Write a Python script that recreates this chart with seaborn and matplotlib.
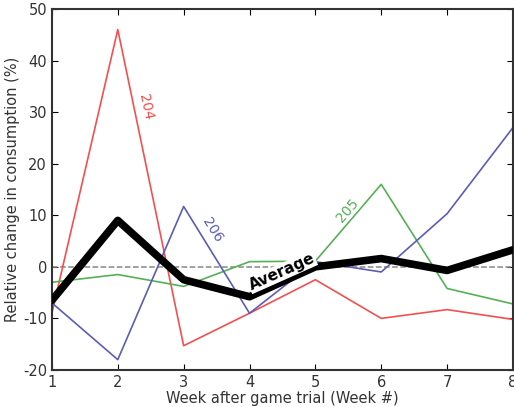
import numpy as np
import pandas as pd
import matplotlib
matplotlib.use("Agg")
from matplotlib import pyplot as plt
import seaborn as sns

weeks = [1, 2, 3, 4, 5, 6, 7, 8]
house_204 = [-9.0, 46.0, -15.3, -9.0, -2.5, -10.0, -8.3, -10.2]
house_205 = [-3.0, -1.5, -3.8, 1.0, 1.1, 16.0, -4.2, -7.2]
house_206 = [-7.0, -18.0, 11.7, -9.0, 1.0, -1.0, 10.3, 27.0]
average = [-6.5, 9.0, -2.5, -5.8, 0.0, 1.6, -0.7, 3.3]

sns.set_style("ticks")
plt.rcParams["font.family"] = ["DejaVu Sans"]

df = pd.DataFrame(
    {
        "Week": weeks * 3,
        "value": house_204 + house_205 + house_206,
        "House": ["204"] * 8 + ["205"] * 8 + ["206"] * 8,
    }
)
avg_df = pd.DataFrame({"Week": weeks, "value": average})

colors = {"204": "#f25050", "205": "#55b055", "206": "#5c5cb8"}

fig = plt.figure(figsize=(5.14, 4.07), dpi=100)
ax = fig.add_axes([0.101, 0.091, 0.897, 0.887])

ax.axhline(0, color="#888888", linestyle="--", linewidth=1.1, zorder=1)

sns.lineplot(
    data=df, x="Week", y="value", hue="House", palette=colors,
    linewidth=1.2, legend=False, ax=ax, zorder=2,
)
sns.lineplot(
    data=avg_df, x="Week", y="value", color="black",
    linewidth=5.5, legend=False, ax=ax, zorder=3,
)

# inline labels
box = dict(facecolor="white", edgecolor="none", pad=0.5)
ax.text(2.42, 31, "204", color=colors["204"], rotation=-78, fontsize=10,
        ha="center", va="center", bbox=box, zorder=4)
ax.text(3.43, 7.2, "206", color=colors["206"], rotation=-58, fontsize=10,
        ha="center", va="center", bbox=box, zorder=4)
ax.text(5.49, 11.0, "205", color=colors["205"], rotation=49, fontsize=10,
        ha="center", va="center", bbox=box, zorder=4)
ax.text(4.49, -1.0, "Average", color="black", rotation=24, fontsize=11,
        fontweight="bold", ha="center", va="center", bbox=box, zorder=4)

ax.set_xlim(1, 8)
ax.set_ylim(-20, 50)
ax.set_xticks(weeks)
ax.set_yticks(range(-20, 51, 10))
ax.set_yticklabels([str(v) for v in range(-20, 51, 10)])
ax.tick_params(direction="in", top=True, right=True, labelsize=10.5,
               length=4, width=0.8, colors="black", labelcolor="#333333")
for s in ax.spines.values():
    s.set_linewidth(1.5)
    s.set_color("#333333")

ax.set_xlabel("Week after game trial (Week #)", fontsize=10.5, color="#333333", labelpad=1)
ax.set_ylabel("Relative change in consumption (%)", fontsize=10.5, color="#333333", labelpad=2)

fig.savefig("out.png", dpi=100)
